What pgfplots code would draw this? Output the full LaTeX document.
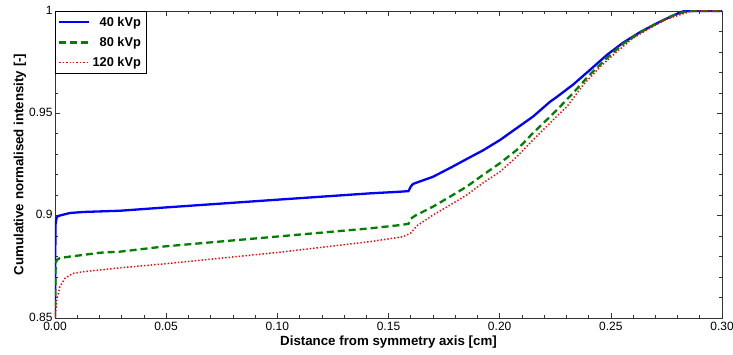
\documentclass[border=0pt]{standalone}
\usepackage{fontspec}
\setmainfont{Liberation Sans}
\usepackage{pgfplots}
\pgfplotsset{compat=1.18}
\definecolor{mblue}{RGB}{0,0,255}
\definecolor{mgreen}{RGB}{0,128,0}
\definecolor{mred}{RGB}{255,0,0}
\begin{document}
\begin{tikzpicture}
\begin{axis}[
  scale only axis, width=667pt, height=307pt,
  xmin=0, xmax=0.3, ymin=0.85, ymax=1,
  xtick={0,0.05,0.10,0.15,0.20,0.25,0.30},
  xticklabels={0.00,0.05,0.10,0.15,0.20,0.25,0.30},
  ytick={0.85,0.9,0.95,1},
  yticklabels={0.85,0.9,0.95,1},
  minor x tick num=4, minor y tick num=4,
  tick align=inside, major tick length=5pt, minor tick length=3pt,
  tick style={black!80, line width=0.6pt},
  axis line style={line width=0.7pt, black!80},
  ticklabel style={font=\fontsize{12}{14}\selectfont},
  xticklabel style={yshift=-0.5pt},
  yticklabel style={xshift=1pt, yshift=1pt},
  xlabel={Distance from symmetry axis [cm]},
  ylabel={Cumulative normalised intensity [-]},
  label style={font=\bfseries\fontsize{13.3}{16}\selectfont},
  xlabel style={yshift=2pt},
  ylabel style={yshift=-4pt},
  legend style={at={(0,1)}, anchor=north west, draw=black, line width=0.6pt,
    font=\bfseries\fontsize{12.8}{15}\selectfont, inner xsep=3pt, inner ysep=3.5pt,
    row sep=5.5pt},
  legend cell align=right,
  legend image code/.code={\draw[#1] (0pt,0pt) -- (30pt,0pt);},
]
\addplot[mblue, line width=2.3pt, line join=round] coordinates {
(0,0.85) (0.0002,0.8954) (0.0007,0.8989) (0.0013,0.8998) (0.003,0.9003)
(0.0067,0.9013) (0.0126,0.9018) (0.0292,0.9024) (0.0495,0.9040)
(0.1,0.9078) (0.1417,0.9109) (0.1552,0.9117) (0.1590,0.9120)
(0.1600,0.9142) (0.1610,0.9155) (0.170,0.9190) (0.1777,0.9233)
(0.1852,0.9277) (0.1925,0.9319) (0.2002,0.9370) (0.2077,0.9428)
(0.2150,0.9484) (0.2227,0.9557) (0.2257,0.9580) (0.2330,0.9640)
(0.2406,0.9712) (0.2482,0.9785) (0.2555,0.9845) (0.2632,0.9897)
(0.2707,0.9940) (0.2780,0.9978) (0.2825,0.9998) (0.2860,1.0) (0.30,1.0)
};
\addlegendentry{40 kVp}
\addplot[mgreen, line width=2.3pt, dash pattern=on 7pt off 4pt] coordinates {
(0,0.85) (0.0003,0.8765) (0.0008,0.8783) (0.0022,0.8793) (0.0067,0.8800)
(0.0126,0.8808) (0.0202,0.8819) (0.0292,0.8824) (0.0495,0.8850)
(0.1,0.8898) (0.1417,0.8938) (0.1552,0.8954) (0.1590,0.8960)
(0.1600,0.8985) (0.1620,0.9000) (0.170,0.9044) (0.1777,0.9093)
(0.1852,0.9142) (0.1925,0.9199) (0.2002,0.9257) (0.2077,0.9321)
(0.2150,0.9404) (0.2227,0.9484) (0.2257,0.9516) (0.2330,0.9599)
(0.2406,0.9690) (0.2482,0.9770) (0.2555,0.9840) (0.2632,0.9895)
(0.2707,0.9940) (0.2780,0.9978) (0.2841,0.9998) (0.2870,1.0) (0.30,1.0)
};
\addlegendentry{80 kVp}
\addplot[mred, line width=1.5pt, dash pattern=on 1.4pt off 2pt] coordinates {
(0,0.85) (0.0008,0.8590) (0.0015,0.8621) (0.0022,0.8653) (0.0045,0.8694)
(0.0081,0.8718) (0.0126,0.8726) (0.0232,0.8738) (0.0292,0.8745)
(0.0495,0.8765) (0.1,0.8820) (0.1417,0.8873) (0.1565,0.8897)
(0.1600,0.8915) (0.1627,0.8950) (0.170,0.9003) (0.1777,0.9052)
(0.1852,0.9101) (0.1925,0.9160) (0.2002,0.9215) (0.2077,0.9288)
(0.2150,0.9370) (0.2227,0.9453) (0.2263,0.9492) (0.2302,0.9532)
(0.2375,0.9638) (0.2452,0.9728) (0.2527,0.9801) (0.2600,0.9868)
(0.2677,0.9917) (0.2752,0.9961) (0.2856,0.9997) (0.2890,1.0) (0.30,1.0)
};
\addlegendentry{120 kVp}
\end{axis}
\path (current axis.south west) ++(-55pt,-37pt) coordinate (bl);
\path (current axis.north east) ++(11pt,11pt) coordinate (tr);
\pgfresetboundingbox
\path[use as bounding box] (bl) rectangle (tr);
\end{tikzpicture}
\end{document}
